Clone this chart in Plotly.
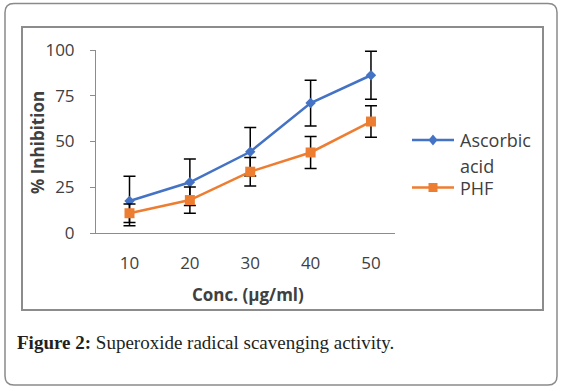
import plotly.graph_objects as go

# ---- data ----
conc = [10, 20, 30, 40, 50]
ascorbic = [17.5, 27.7, 44.4, 71.0, 86.2]
ascorbic_err = [13.5, 12.7, 13.3, 12.5, 13.1]
phf = [10.8, 18.0, 33.5, 44.0, 60.9]
phf_err = [5.0, 7.2, 7.8, 8.8, 8.6]
y_ticks = [0, 25, 50, 75, 100]

BLUE = "#4472C4"
ORANGE = "#ED7D31"
TXT = "#404040"
W, H = 562, 391
L, R, T, B = 96, 395, 50, 233  # plot area in pixels


def px(x):
    return (x - L) / (R - L)


def py(y):
    return (B - y) / (B - T)


def conv_path(p):
    out = []
    for t in p.split():
        if "," in t:
            a, b = t.split(",")
            out.append(f"{px(float(a)):.5f},{py(float(b)):.5f}")
        else:
            out.append(t)
    return " ".join(out)


fig = go.Figure()
fig.add_trace(go.Scatter(
    x=conc, y=ascorbic, name="Ascorbic acid", mode="lines+markers",
    line=dict(color=BLUE, width=2.5),
    marker=dict(symbol="diamond", size=8, color=BLUE),
    error_y=dict(type="data", array=ascorbic_err, color="black", thickness=1.5, width=6),
))
fig.add_trace(go.Scatter(
    x=conc, y=phf, name="PHF", mode="lines+markers",
    line=dict(color=ORANGE, width=2.5),
    marker=dict(symbol="square", size=10, color=ORANGE),
    error_y=dict(type="data", array=phf_err, color="black", thickness=1.5, width=6),
))

shapes = []
# outer rounded border
x0, y0, x1, y1, r = 5, 3.5, 557, 385, 9
path = (f"M {x0+r},{y0} L {x1-r},{y0} Q {x1},{y0} {x1},{y0+r} L {x1},{y1-r} Q {x1},{y1} {x1-r},{y1} "
        f"L {x0+r},{y1} Q {x0},{y1} {x0},{y1-r} L {x0},{y0+r} Q {x0},{y0} {x0+r},{y0} Z")
shapes.append(dict(type="path", xref="paper", yref="paper", path=conv_path(path),
                   line=dict(color="#8a8a8a", width=1.5)))
# inner chart frame
shapes.append(dict(type="rect", xref="paper", yref="paper",
                   x0=px(22), x1=px(543), y0=py(27), y1=py(310),
                   line=dict(color="#8c8c8c", width=2)))
# legend samples
for yy, col in [(140, BLUE), (187.5, ORANGE)]:
    shapes.append(dict(type="line", xref="paper", yref="paper",
                       x0=px(412), x1=px(454), y0=py(yy), y1=py(yy),
                       line=dict(color=col, width=2.5)))
cx, cy = 433, 140
dpath = f"M {cx-4.5},{cy} L {cx},{cy-5.5} L {cx+4.5},{cy} L {cx},{cy+5.5} Z"
shapes.append(dict(type="path", xref="paper", yref="paper", path=conv_path(dpath),
                   fillcolor=BLUE, line=dict(color=BLUE, width=0)))
shapes.append(dict(type="rect", xref="paper", yref="paper",
                   x0=px(428.5), x1=px(437.5), y0=py(183), y1=py(192),
                   fillcolor=ORANGE, line=dict(color=ORANGE, width=0)))

ann = []


def text(x, y, s, size=15, bold=False, xanchor="left", family="Open Sans", color=TXT, angle=0):
    ann.append(dict(xref="paper", yref="paper", x=px(x), y=py(y), text=(f"<b>{s}</b>" if bold else s),
                    showarrow=False, xanchor=xanchor, yanchor="middle", textangle=angle,
                    font=dict(size=size, family=family, color=color)))


text(458, 140, "Ascorbic", 18)
text(458, 166, "acid", 18)
text(458, 187.5, "PHF", 18)
text(248, 294, "Conc. (µg/ml)", 17, bold=True, xanchor="center")
text(37, 143, "% Inhibition", 17, bold=True, xanchor="center", angle=-90)
ann.append(dict(xref="paper", yref="paper", x=px(15), y=py(342),
                text="<b>Figure 2:</b> Superoxide radical scavenging activity.",
                showarrow=False, xanchor="left", yanchor="middle",
                font=dict(size=19, family="Liberation Serif", color="#231f20")))

fig.update_layout(
    width=W, height=H,
    margin=dict(l=L, r=W - R, t=T, b=H - B, pad=0),
    paper_bgcolor="white", plot_bgcolor="white",
    showlegend=False,
    shapes=shapes, annotations=ann,
    xaxis=dict(range=[4.45, 53.98], tickvals=conc, ticktext=[str(c) for c in conc],
               showgrid=False, zeroline=False, showline=True, linecolor="#8c8c8c", linewidth=1,
               ticks="", tickfont=dict(size=17, family="Open Sans", color=TXT),
               ticklabelstandoff=15),
    yaxis=dict(range=[0, 100], tickvals=y_ticks, showgrid=False, zeroline=False,
               showline=True, linecolor="#8c8c8c", linewidth=1,
               ticks="outside", ticklen=5, tickcolor="#8c8c8c",
               tickfont=dict(size=17, family="Open Sans", color=TXT),
               ticklabelstandoff=12),
)

fig.write_html("out.html", post_script="document.body.style.margin='0';",
               config={"displayModeBar": False})
